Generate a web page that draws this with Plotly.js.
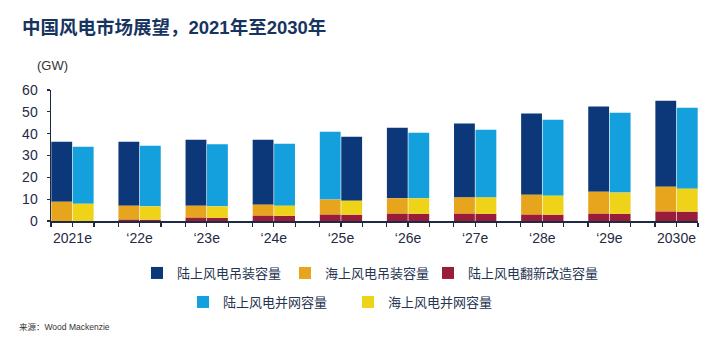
<!DOCTYPE html>
<html>
<head>
<meta charset="utf-8">
<script src="https://cdn.plot.ly/plotly-3.0.1.min.js"></script>
<style>html,body{margin:0;padding:0;background:#fff;}#chart{width:720px;height:344px;}</style>
</head>
<body>
<div id="chart"></div>
<script>
// Categories
const years = ['2021e', '\u201822e', '\u201823e', '\u201824e', '\u201825e', '\u201826e', '\u201827e', '\u201828e', '\u201829e', '2030e'];
// Series (GW)
const refurb     = [0.0, 0.6, 1.5, 2.4, 2.9, 3.3, 3.3, 2.9, 3.3, 4.3];      // 陆上风电翻新改造容量
const offInstall = [8.8, 6.4, 5.5, 5.1, 6.9, 7.1, 7.5, 9.1, 10.1, 11.4];    // 海上风电吊装容量
const onInstall  = [27.5, 29.3, 30.2, 29.7, 31.1, 32.3, 33.8, 37.2, 39.0, 39.4]; // 陆上风电吊装容量
const offGrid    = [7.9, 6.1, 5.2, 4.6, 6.4, 7.1, 7.5, 8.7, 9.7, 10.5];     // 海上风电并网容量
const onGrid     = [26.1, 27.8, 28.4, 28.4, 29.3, 30.0, 31.0, 34.8, 36.6, 37.1]; // 陆上风电并网容量
// Tick labels
const yTicks = [0, 10, 20, 30, 40, 50, 60];

const NAVY = '#0c3779', LBLUE = '#13a0dd', ORANGE = '#e7a41d', YELLOW = '#eed318', RED = '#9a1c3b';
const TXT = '#1f2b45';
const FONT = 'Liberation Sans, Arial, Noto Sans CJK SC, sans-serif';

const idx = years.map((_, i) => i);
const add = (a, b) => a.map((v, i) => v + b[i]);
// In the reference the 2025 onshore colours are swapped between the two bars
const swapIdx = 4;
const onInstColors = idx.map(i => i === swapIdx ? LBLUE : NAVY);
const onGridColors = idx.map(i => i === swapIdx ? NAVY : LBLUE);

const common = {type: 'bar', x: idx, hoverinfo: 'skip'};
const traces = [
  Object.assign({}, common, {name: '陆上风电吊装容量', y: onInstall, base: add(refurb, offInstall), offsetgroup: 'A', marker: {color: onInstColors}, legend: 'legend'}),
  Object.assign({}, common, {name: '海上风电吊装容量', y: offInstall, base: refurb, offsetgroup: 'A', marker: {color: ORANGE}, legend: 'legend2'}),
  Object.assign({}, common, {name: '陆上风电翻新改造容量', y: refurb, base: 0, offsetgroup: 'A', marker: {color: RED}, legend: 'legend3'}),
  Object.assign({}, common, {name: '陆上风电翻新改造容量', y: refurb, base: 0, offsetgroup: 'B', marker: {color: RED}, showlegend: false}),
  Object.assign({}, common, {name: '陆上风电并网容量', y: onGrid, base: add(refurb, offGrid), offsetgroup: 'B', marker: {color: onGridColors}, legend: 'legend4'}),
  Object.assign({}, common, {name: '海上风电并网容量', y: offGrid, base: refurb, offsetgroup: 'B', marker: {color: YELLOW}, legend: 'legend5'})
];

const half = 0.32;
const xTickVals = [], xTickText = [];
idx.forEach(i => {
  xTickVals.push(i - half, i, i + half);
  xTickText.push('', years[i], '');
});

const W = 720, H = 344, ML = 51, MR = 22, MT = 90, MB = 123;
const PW = W - ML - MR, PH = H - MT - MB;
const px = v => (v - ML) / PW;
const py = v => (H - MB - v) / PH;

const legFont = {family: 'Noto Sans CJK SC, sans-serif', size: 13, color: '#26344f'};
const leg = (textX, topY) => ({orientation: 'h', x: px(textX - 40), xanchor: 'left', y: py(topY), yanchor: 'top',
  font: legFont, bgcolor: 'rgba(0,0,0,0)', itemclick: false});

const layout = {
  width: W, height: H,
  margin: {l: ML, r: MR, t: MT, b: MB, pad: 0},
  paper_bgcolor: '#fff', plot_bgcolor: '#fff',
  font: {family: FONT, color: TXT},
  barmode: 'group', bargap: 0.36, bargroupgap: 0.03,
  title: {text: '<b>中国风电市场展望，2021年至2030年</b>', xref: 'container', yref: 'container', x: 22 / W, xanchor: 'left', y: 1 - 28 / H, yanchor: 'middle', font: {family: 'Liberation Sans, Noto Sans CJK SC, sans-serif', size: 18.5, color: '#17345f'}},
  xaxis: {type: 'linear', range: [-half, years.length - 1 + half], tickmode: 'array', tickvals: xTickVals, ticktext: xTickText,
    showline: true, linecolor: TXT, linewidth: 1.5, ticks: 'outside', ticklen: 4, tickwidth: 1.2, tickcolor: TXT,
    showgrid: false, zeroline: false, tickfont: {family: FONT, size: 14, color: TXT}, fixedrange: true},
  yaxis: {range: [0, 60], tickmode: 'array', tickvals: yTicks, ticktext: yTicks.map(String),
    showline: true, linecolor: TXT, linewidth: 1.5, ticks: 'outside', ticklen: 3, tickwidth: 1.2, tickcolor: TXT,
    showgrid: false, zeroline: false, tickfont: {family: FONT, size: 14, color: TXT}, ticklabelstandoff: 6, fixedrange: true},
  legend: leg(177, 258),
  legend2: leg(325, 258),
  legend3: leg(468, 258),
  legend4: leg(223, 287),
  legend5: leg(388, 287),
  annotations: [
    {text: '(GW)', xref: 'paper', yref: 'paper', x: px(35), xanchor: 'left', y: py(65), yanchor: 'middle', showarrow: false, font: {family: FONT, size: 13, color: '#333'}},
    {text: '来源：Wood Mackenzie', xref: 'paper', yref: 'paper', x: px(17), xanchor: 'left', y: py(327), yanchor: 'middle', showarrow: false, font: {family: 'Liberation Sans, Noto Sans CJK SC, sans-serif', size: 8.5, color: '#333'}}
  ]
};

Plotly.newPlot('chart', traces, layout, {staticPlot: true, displayModeBar: false});
</script>
</body>
</html>
